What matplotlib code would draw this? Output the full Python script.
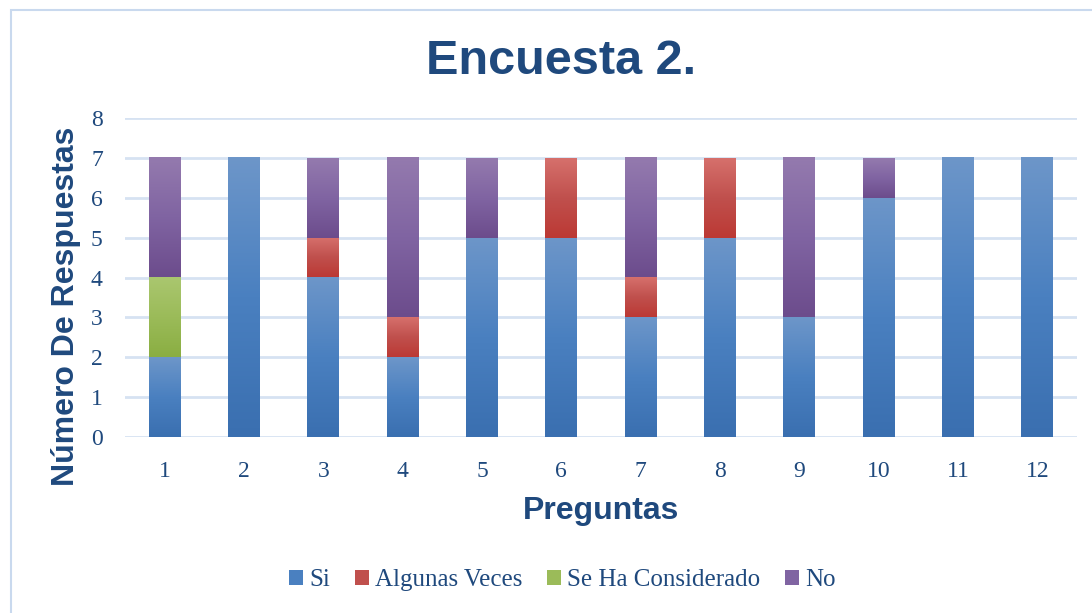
import numpy as np
import matplotlib.pyplot as plt
from matplotlib.colors import LinearSegmentedColormap
from matplotlib.patches import Rectangle

# Data
preguntas = [str(i) for i in range(1, 13)]
si = [2, 7, 4, 2, 5, 5, 3, 5, 3, 6, 7, 7]
algunas = [0, 0, 1, 1, 0, 2, 1, 2, 0, 0, 0, 0]
considerado = [2, 0, 0, 0, 0, 0, 0, 0, 0, 0, 0, 0]
no = [3, 0, 2, 4, 2, 0, 3, 0, 4, 1, 0, 0]

series = [
    ('Si', si, '#6D96C9', '#3A6FB0', '#4A80C0'),
    ('Algunas Veces', algunas, '#D6706C', '#BC3934', '#C0504D'),
    ('Se Ha Considerado', considerado, '#AAC76F', '#8AAE42', '#9BBB59'),
    ('No', no, '#947AAE', '#6C4C8C', '#8064A2'),
]

text_color = '#1F497D'
grid_color = '#D6E2F2'

fig = plt.figure(figsize=(10.92, 6.13), dpi=100)
fig.patches.append(Rectangle((11 / 1092, -0.1), 1.2, 1.1 - 10 / 613,
                             transform=fig.transFigure, fill=False,
                             edgecolor='#C9D9EE', linewidth=1.5))
ax = fig.add_axes([125 / 1092, 1 - 437 / 613, (1077 - 125) / 1092, (437 - 118) / 613])

x = np.arange(1, 13)
width = 0.4
bottom = np.zeros(12)
handles = []
grad = np.linspace(0, 1, 256).reshape(-1, 1)
for name, vals, top_c, bot_c, mid_c in series:
    vals = np.array(vals, dtype=float)
    bars = ax.bar(x, vals, width, bottom=bottom, color=mid_c, label=name,
                  linewidth=0, zorder=2)
    cmap = LinearSegmentedColormap.from_list(name, [bot_c, mid_c, top_c])
    for b in bars:
        h = b.get_height()
        if h <= 0:
            continue
        x0 = b.get_x()
        y0 = b.get_y()
        ax.imshow(grad, extent=(x0, x0 + b.get_width(), y0, y0 + h),
                  origin='lower', cmap=cmap, aspect='auto', zorder=3)
    handles.append(bars)
    bottom += vals

ax.set_xlim(0.5, 12.5)
ax.set_ylim(0, 8)
ax.set_aspect('auto')
ax.set_xticks(x)
ax.set_xticklabels(preguntas)
ax.set_yticks(range(0, 9))
ax.yaxis.grid(True, color=grid_color, linewidth=2)
ax.set_axisbelow(True)
for s in ax.spines.values():
    s.set_visible(False)
ax.tick_params(length=0, colors=text_color, labelsize=17)
ax.tick_params(axis='x', pad=17)
ax.tick_params(axis='y', pad=16)
for lab in ax.get_xticklabels() + ax.get_yticklabels():
    lab.set_family('Liberation Serif')

ax.set_xlabel('Preguntas', fontsize=23, fontweight='bold', color=text_color,
              family='Liberation Sans', labelpad=10)
ax.set_ylabel('Número De Respuestas', fontsize=23, fontweight='bold',
              color=text_color, family='Liberation Sans')
ax.yaxis.set_label_coords(-44 / 952, 0.41)
fig.text(0.514, 1 - 62 / 613, 'Encuesta 2.', ha='center', va='center',
         fontsize=35, fontweight='bold', color=text_color, family='Liberation Sans')

leg = fig.legend(handles, [s[0] for s in series], loc='center',
                 bbox_to_anchor=(0.515, 1 - 580 / 613), ncol=4, frameon=False,
                 prop={'family': 'Liberation Serif', 'size': 18},
                 handlelength=0.55, handleheight=0.55, handletextpad=0.25,
                 columnspacing=1.0)
for t in leg.get_texts():
    t.set_color(text_color)

fig.savefig('out.png', dpi=100)
